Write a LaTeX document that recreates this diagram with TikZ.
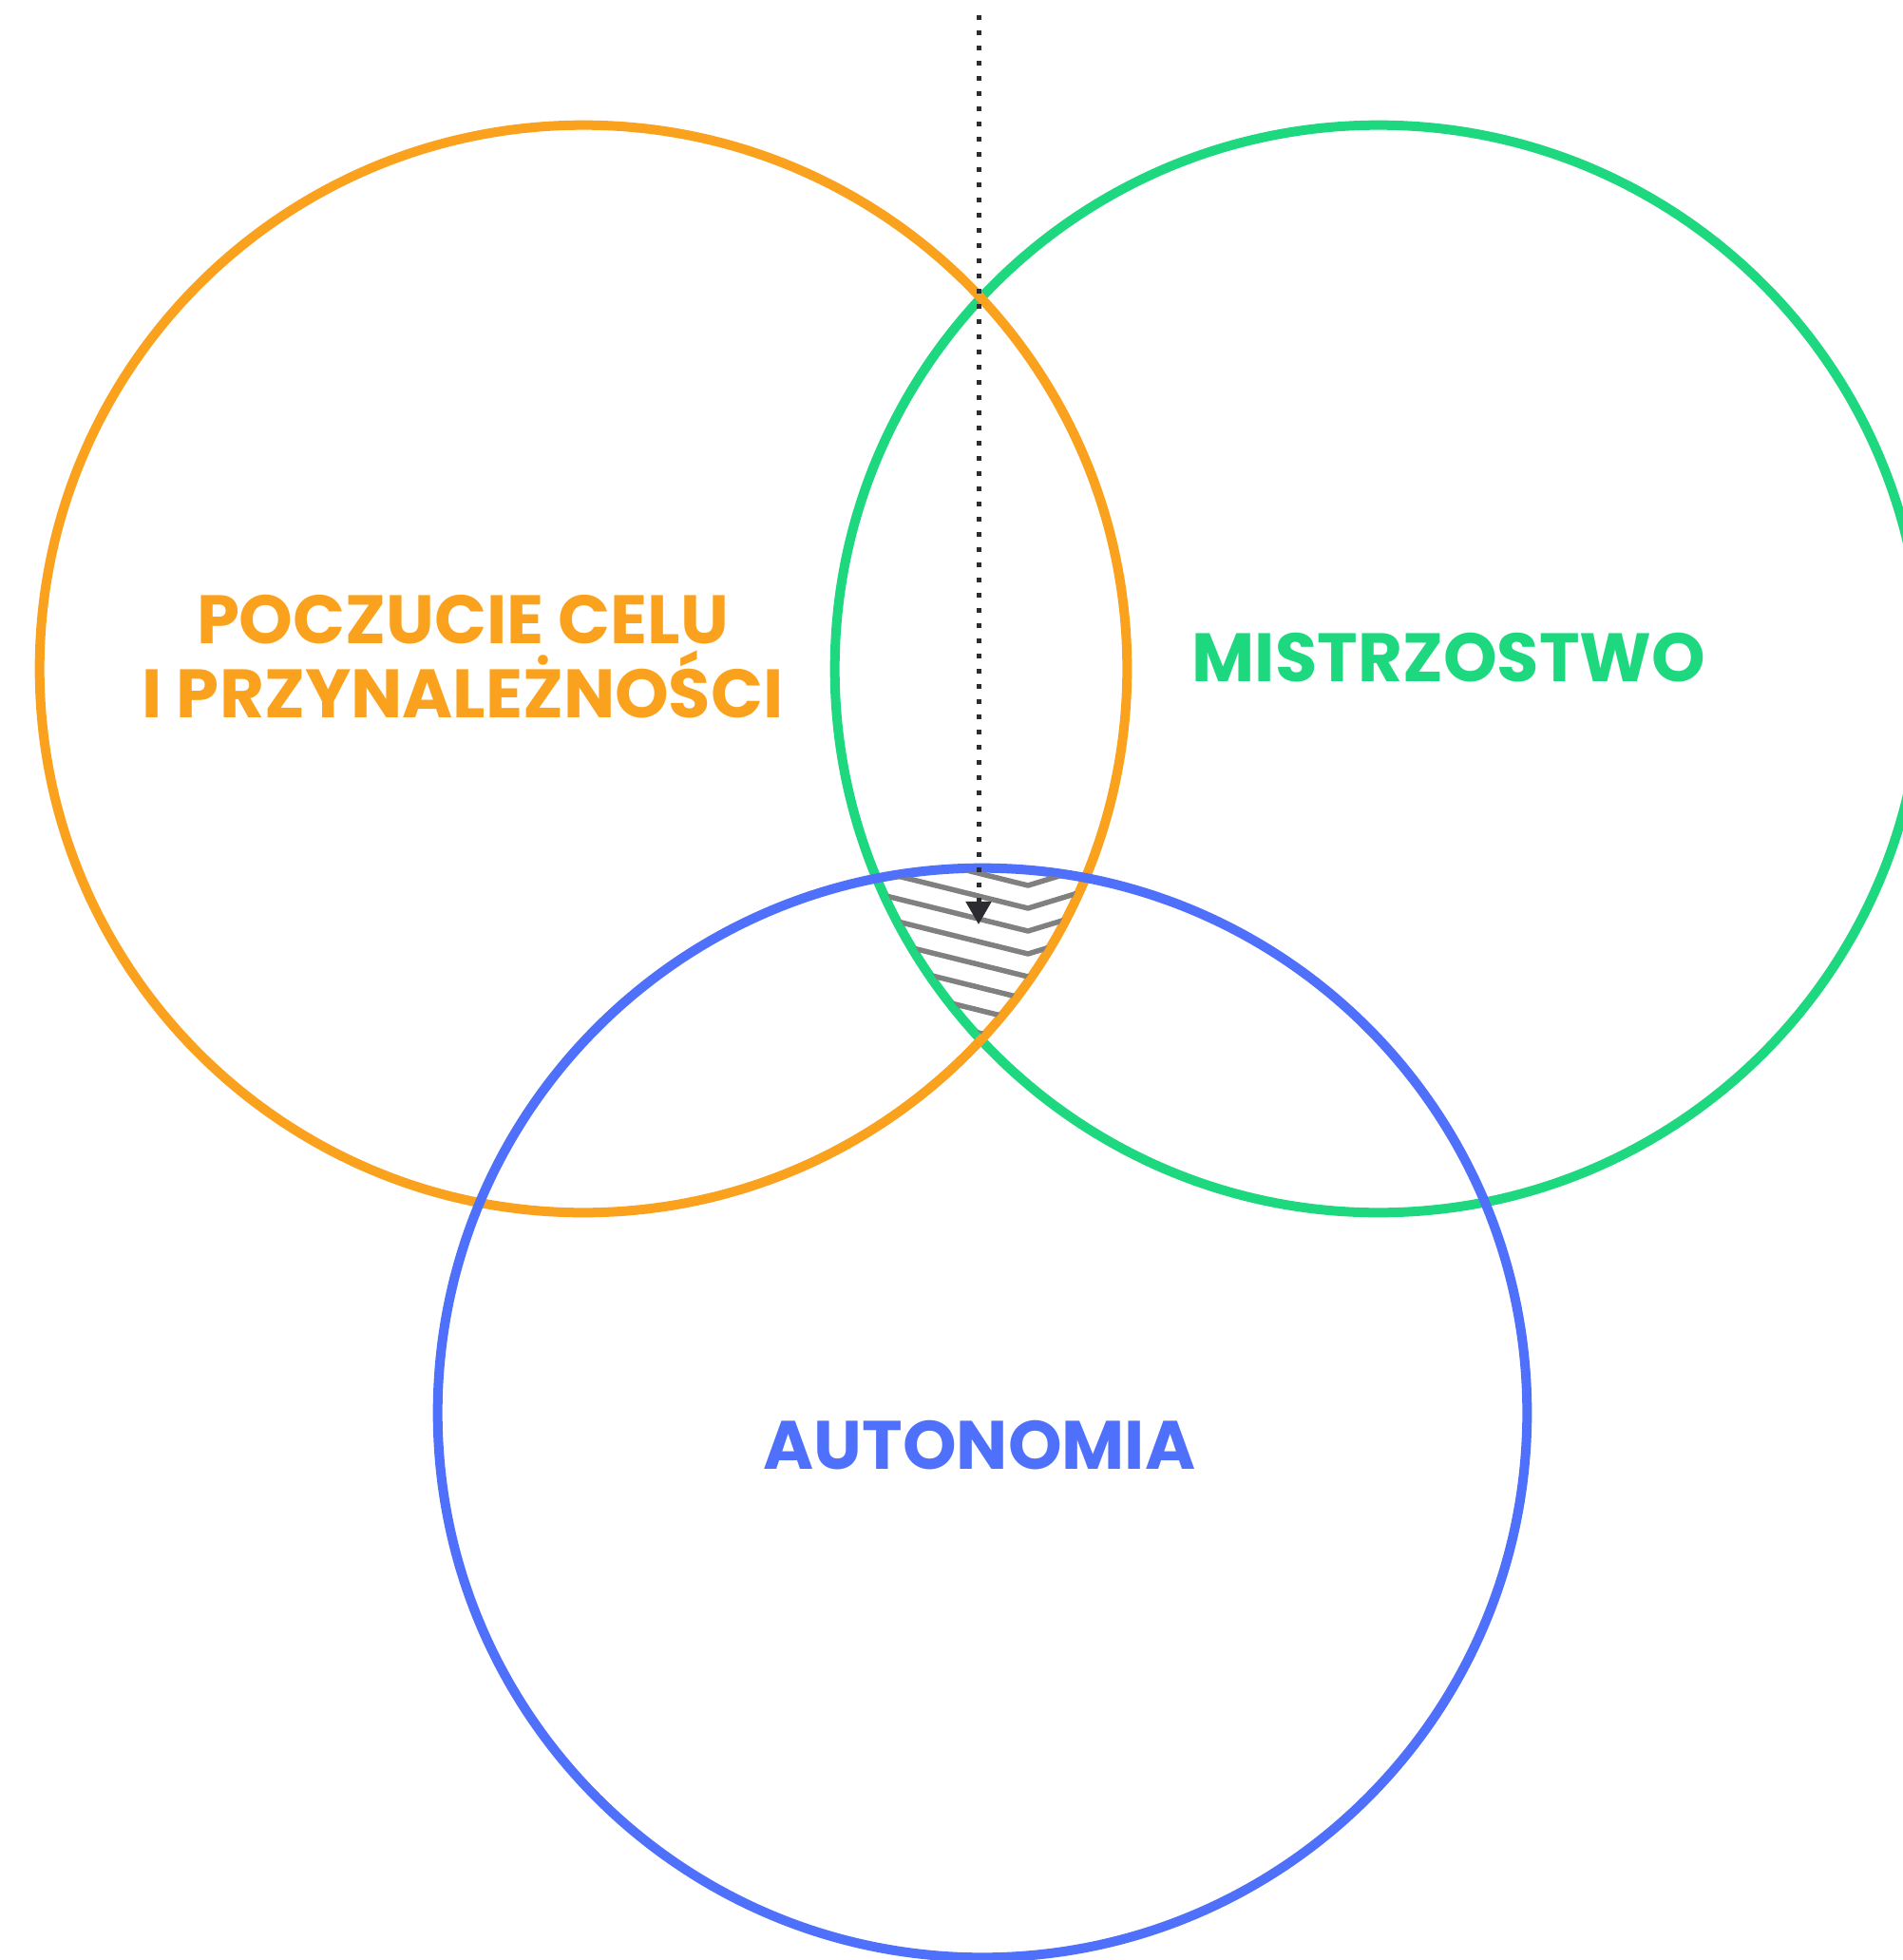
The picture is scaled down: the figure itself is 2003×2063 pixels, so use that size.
\documentclass[tikz,border=0pt]{standalone}
\usepackage{fontspec}
\setmainfont{Poppins}
\usetikzlibrary{arrows.meta,calc}
\definecolor{purposeorange}{RGB}{250,162,30}
\definecolor{masterygreen}{RGB}{30,216,128}
\definecolor{autonomyblue}{RGB}{78,112,250}
\definecolor{arrowdark}{RGB}{43,43,48}
\definecolor{hatchgray}{RGB}{128,128,128}

\begin{document}
\begin{tikzpicture}[x=0.01cm, y=-0.01cm,
    ring/.style={line width=0.1cm},
    venntext/.style={font=\fontsize{20.5}{22}\selectfont\bfseries, align=center}]

\useasboundingbox (0,0) rectangle (2003,2063);

% Circle centres
\coordinate (purpose) at (614,704);
\coordinate (mastery) at (1451,704);
\coordinate (autonomy) at (1034,1487);

% Circles
\draw[ring, masterygreen] (mastery) circle (5.72cm);
\draw[ring, purposeorange] (purpose) circle (5.72cm);
\draw[ring, autonomyblue] (autonomy) circle (5.73cm);

% Hatched common part
\begin{scope}
    \clip (purpose) circle (5.68cm);
    \clip (mastery) circle (5.68cm);
    \clip (autonomy) circle (5.69cm);
    \foreach \k in {0,...,9} {
        \draw[hatchgray, line width=0.055cm, line join=round]
            (860, 877+24*\k) -- (1082, 932+24*\k) -- (1200, 896+24*\k);
    }
\end{scope}

% Labels
\node[venntext, purposeorange] (purposetext) at (487,691) {POCZUCIE CELU\\I PRZYNALEŻNOŚCI};
\node[venntext, masterygreen] (masterytext) at (1525,692) {MISTRZOSTWO};
\node[venntext, autonomyblue] (autonomytext) at (1031,1521) {AUTONOMIA};

% Dotted pointer
\coordinate (arrowtop) at (1030,16);
\coordinate (arrowtip) at (1030,973);
\draw[arrowdark, line width=0.05cm, dash pattern=on 0.05cm off 0.11cm,
    -{Triangle[width=0.26cm,length=0.24cm]}] (arrowtop) -- (arrowtip);

\end{tikzpicture}
\end{document}
